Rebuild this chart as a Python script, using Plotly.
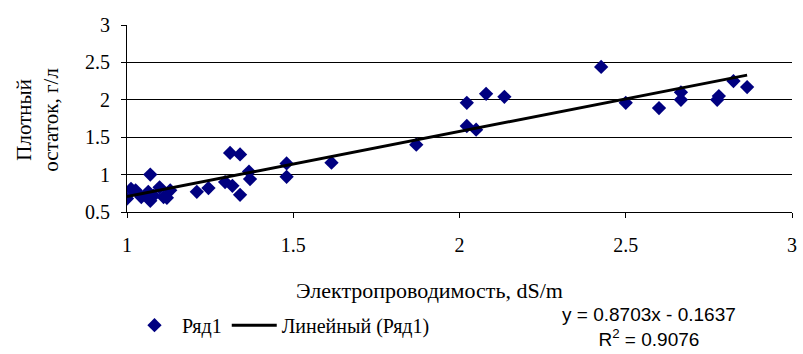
import plotly.graph_objects as go

x_vals = [1.0, 1.012, 1.026, 1.043, 1.07, 1.07, 1.064, 1.08, 1.098, 1.11, 1.12, 1.13,
          1.21, 1.245, 1.295, 1.31, 1.34, 1.317, 1.34, 1.367, 1.37, 1.48, 1.48, 1.615,
          1.87, 2.022, 2.022, 2.05, 2.08, 2.135, 2.426, 2.50, 2.60, 2.666, 2.666,
          2.775, 2.78, 2.824, 2.865]
y_vals = [0.68, 0.81, 0.79, 0.70, 1.0, 0.65, 0.77, 0.72, 0.83, 0.70, 0.69, 0.79,
          0.77, 0.82, 0.90, 1.29, 1.27, 0.85, 0.73, 1.04, 0.94, 1.15, 0.97, 1.16,
          1.40, 1.96, 1.65, 1.60, 2.08, 2.04, 2.44, 1.96, 1.89, 2.10, 2.00,
          2.00, 2.05, 2.25, 2.17]
slope = 0.8703
intercept = -0.1637
r2 = 0.9076
x_ticks = [1, 1.5, 2, 2.5, 3]
y_ticks = [0.5, 1, 1.5, 2, 2.5, 3]

trend_x = [min(x_vals), max(x_vals)]
trend_y = [slope * v + intercept for v in trend_x]

serif = "'Liberation Serif', 'Times New Roman', Times, serif"
sans = "'Liberation Sans', Arial, sans-serif"
fig = go.Figure()
fig.add_trace(go.Scatter(x=x_vals, y=y_vals, mode="markers", name="Ряд1",
                         marker=dict(symbol="diamond", size=11, color="#000080")))
fig.add_trace(go.Scatter(x=trend_x, y=trend_y, mode="lines", name="Линейный (Ряд1)",
                         line=dict(color="black", width=3)))

fig.update_layout(
    width=803, height=354,
    margin=dict(l=127, r=6, t=25, b=141.5),
    paper_bgcolor="white", plot_bgcolor="white",
    font=dict(family=serif, size=20, color="black"),
    showlegend=True,
    legend=dict(orientation="h", x=0.0, y=-0.605, xanchor="left", yanchor="middle",
                font=dict(family=serif, size=20), itemwidth=45, bgcolor="rgba(0,0,0,0)"),
    xaxis=dict(range=[1, 3], tickvals=x_ticks, showgrid=False, showline=True,
               linecolor="black", linewidth=1, ticks="outside", ticklen=5,
               tickcolor="black", zeroline=False, fixedrange=True,
               ticklabelstandoff=10,
               tickfont=dict(family=serif, size=20)),
    yaxis=dict(range=[0.5, 3], tickvals=y_ticks, showgrid=True, gridcolor="black",
               gridwidth=1, showline=True, linecolor="black", linewidth=1,
               ticks="outside", ticklen=5, tickcolor="black", zeroline=False,
               ticklabelstandoff=7,
               tickfont=dict(family=serif, size=20)),
)

fig.add_annotation(text="Электропроводимость, dS/m", xref="paper", yref="paper",
                   x=0.455, y=-0.419, xanchor="center", yanchor="middle", showarrow=False,
                   font=dict(family=serif, size=22))
fig.add_annotation(text="Плотный<br>остаток, г/л", xref="paper", yref="paper",
                   x=-0.134, y=0.493, xanchor="center", yanchor="middle",
                   textangle=-90, showarrow=False,
                   font=dict(family=serif, size=21))
fig.add_annotation(text=f"y = {slope}x - {abs(intercept)}<br>R<sup>2</sup> = {r2}",
                   xref="paper", yref="paper", x=0.785, y=-0.615,
                   xanchor="center", yanchor="middle", showarrow=False,
                   align="center", font=dict(family=sans, size=19))

fig.write_html("out.html")
